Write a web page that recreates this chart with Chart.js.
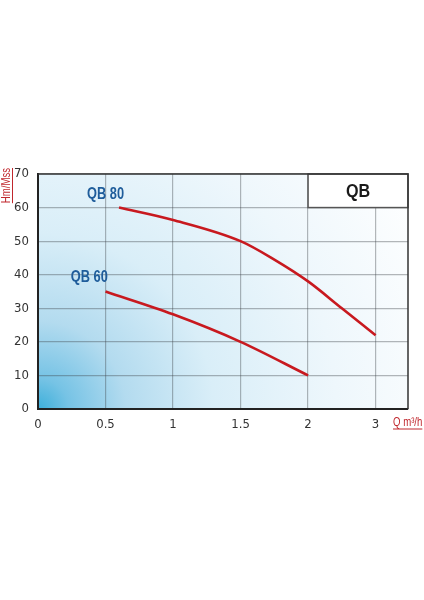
<!DOCTYPE html>
<html>
<head>
<meta charset="utf-8">
<script src="https://cdn.jsdelivr.net/npm/chart.js@4/dist/chart.umd.min.js"></script>
<style>
html,body{margin:0;padding:0;background:#fff;}
#wrap{width:424px;height:600px;}
</style>
</head>
<body>
<div id="wrap"><canvas id="c" width="424" height="600"></canvas></div>
<script>
// ---- data ----
const xTickPositions = [0, 0.5, 1, 1.5, 2, 2.5];
const xTickLabels = ["0", "0.5", "1", "1.5", "2", "3"];
const yTickValues = [0, 10, 20, 30, 40, 50, 60, 70];

const qb80X = [0.6, 1.0, 1.5, 1.75, 2.0, 2.25, 2.5];
const qb80Y = [60, 56.3, 50, 44.5, 38, 30, 22];

const qb60X = [0.5, 1.0, 1.5, 2.0];
const qb60Y = [35, 28.2, 20, 10];

const seriesNames = ["QB 80", "QB 60"];
const seriesLabelX = [0.5, 0.38];
const seriesLabelY = [64, 39];

const boxTitle = "QB";
const boxX = [2, 2.74];
const boxY = [60, 70];

const yTitle = "Hm/Mss";
const xTitle = "Q m\u00b3/h";

const NARROW = "'Liberation Sans Narrow','Arial Narrow','DejaVu Sans Condensed',sans-serif";
const SANS = "'Liberation Sans',Arial,sans-serif";

function pts(xs, ys){ return xs.map((x,i)=>({x:x, y:ys[i]})); }

// draw horizontally condensed text
function narrowText(ctx, text, x, y, align, sx){
  ctx.save();
  ctx.translate(x, y);
  ctx.scale(sx, 1);
  ctx.textAlign = align;
  ctx.fillText(text, 0, 0);
  const w = ctx.measureText(text).width * sx;
  ctx.restore();
  return w;
}

const bgPlugin = {
  id: 'bg',
  beforeDraw(chart){
    const {ctx, chartArea:a} = chart;
    const r = Math.hypot(a.right - a.left, a.bottom - a.top);
    const g = ctx.createRadialGradient(a.left, a.bottom, 0, a.left, a.bottom, r);
    g.addColorStop(0, '#3cafda');
    g.addColorStop(0.07, '#76c3e5');
    g.addColorStop(0.2, '#b3dbef');
    g.addColorStop(0.4, '#d9eef8');
    g.addColorStop(0.68, '#eef7fc');
    g.addColorStop(1, '#ffffff');
    ctx.save();
    ctx.fillStyle = g;
    ctx.fillRect(a.left, a.top, a.right - a.left, a.bottom - a.top);
    ctx.restore();
  },
  beforeDatasetsDraw(chart){
    const {ctx, chartArea:a, scales:{x, y}} = chart;
    const x0 = x.getPixelForValue(boxX[0]), x1 = a.right;
    const y0 = y.getPixelForValue(boxY[1]), y1 = y.getPixelForValue(boxY[0]);
    ctx.save();
    ctx.fillStyle = '#ffffff';
    ctx.fillRect(x0, y0, x1 - x0, y1 - y0);
    ctx.strokeStyle = '#555';
    ctx.lineWidth = 1.5;
    ctx.strokeRect(x0, y0, x1 - x0, y1 - y0);
    ctx.fillStyle = '#1a1a1a';
    ctx.font = "bold 19px " + SANS;
    ctx.textBaseline = 'middle';
    narrowText(ctx, boxTitle, (x0 + x1) / 2, (y0 + y1) / 2 + 1, 'center', 0.85);
    // top and right frame
    ctx.strokeStyle = '#333';
    ctx.lineWidth = 1.5;
    ctx.beginPath();
    ctx.moveTo(a.left, a.top); ctx.lineTo(a.right, a.top); ctx.lineTo(a.right, a.bottom);
    ctx.stroke();
    ctx.restore();
  },
  afterDraw(chart){
    const {ctx, chartArea:a, scales:{x, y}} = chart;
    ctx.save();
    // series labels
    ctx.fillStyle = '#1f5d9b';
    ctx.font = "bold 16px " + SANS;
    ctx.textBaseline = 'middle';
    seriesNames.forEach((n, i) => {
      narrowText(ctx, n, x.getPixelForValue(seriesLabelX[i]), y.getPixelForValue(seriesLabelY[i]), 'center', 0.8);
    });
    // axis titles (red, underlined)
    ctx.fillStyle = '#c0272d';
    ctx.strokeStyle = '#c0272d';
    ctx.lineWidth = 1;
    ctx.font = "12px " + SANS;
    ctx.textBaseline = 'alphabetic';
    // y title rotated
    ctx.save();
    ctx.translate(a.left - 28, a.top - 6);
    ctx.rotate(-Math.PI / 2);
    const wy = narrowText(ctx, yTitle, 0, 0, 'right', 0.8);
    ctx.beginPath(); ctx.moveTo(-wy, 2.5); ctx.lineTo(0, 2.5); ctx.stroke();
    ctx.restore();
    // x title
    const tx = a.right - 15, ty = a.bottom + 17;
    const wx = narrowText(ctx, xTitle, tx, ty, 'left', 0.8);
    ctx.beginPath(); ctx.moveTo(tx, ty + 3); ctx.lineTo(tx + wx, ty + 3); ctx.stroke();
    ctx.restore();
  }
};

new Chart(document.getElementById('c'), {
  type: 'line',
  data: {
    datasets: [
      { label: seriesNames[0], data: pts(qb80X, qb80Y), borderColor: '#c8191f', borderWidth: 2.6,
        pointRadius: 0, fill: false, cubicInterpolationMode: 'monotone' },
      { label: seriesNames[1], data: pts(qb60X, qb60Y), borderColor: '#c8191f', borderWidth: 2.6,
        pointRadius: 0, fill: false, cubicInterpolationMode: 'monotone' }
    ]
  },
  options: {
    responsive: false,
    animation: false,
    layout: { padding: { left: 0, top: 174, right: 16, bottom: 161 } },
    plugins: { legend: { display: false }, tooltip: { enabled: false } },
    scales: {
      x: {
        type: 'linear', min: 0, max: 2.74,
        afterBuildTicks(s){ s.ticks = xTickPositions.map(v => ({value: v})); },
        afterFit(s){ s.height = 30; },
        grid: { color: 'rgba(60,65,72,0.38)', lineWidth: 1.2, drawTicks: false },
        border: { display: true, color: '#222', width: 2 },
        ticks: {
          padding: 8, color: '#333', font: { family: NARROW, size: 13 },
          maxRotation: 0, autoSkip: false,
          callback(v, i){ return xTickLabels[i]; }
        }
      },
      y: {
        type: 'linear', min: 0, max: 70,
        afterBuildTicks(s){ s.ticks = yTickValues.map(v => ({value: v})); },
        afterFit(s){ s.width = 38; },
        grid: { color: 'rgba(60,65,72,0.38)', lineWidth: 1.2, drawTicks: false },
        border: { display: true, color: '#222', width: 2 },
        ticks: { padding: 9, color: '#333', font: { family: NARROW, size: 13 }, autoSkip: false }
      }
    }
  },
  plugins: [bgPlugin]
});
</script>
</body>
</html>
